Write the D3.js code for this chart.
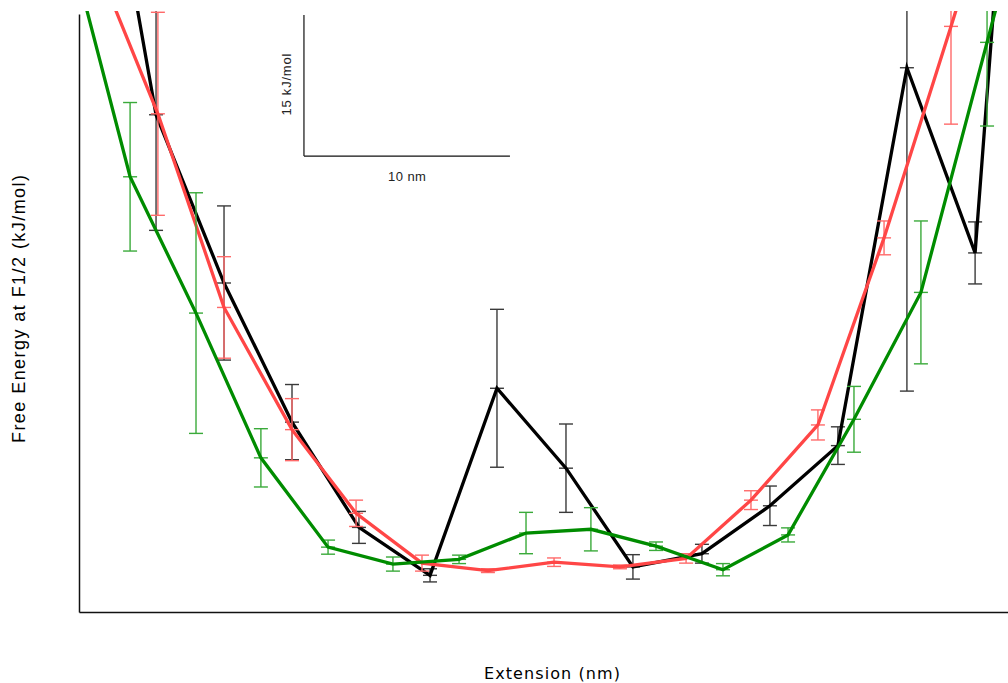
<!DOCTYPE html>
<html>
<head>
<meta charset="utf-8">
<script src="https://cdn.jsdelivr.net/npm/d3@7"></script>
<style>
  html, body { margin: 0; padding: 0; background: #fff; }
  svg { display: block; }
</style>
</head>
<body>
<svg id="chart" width="1008" height="683"></svg>
<script>
// ---- Data (extension in nm, free energy in kJ/mol, error in kJ/mol) ----
const blackX   = [0.44, 3.74, 7.04, 10.34, 13.59, 17.04, 20.29, 23.64, 26.89, 30.24, 33.54, 36.84, 40.19, 43.50, 46.80];
const blackY   = [93.8, 52.9, 35.0, 20.2, 9.0, 3.9, 23.8, 15.3, 4.8, 6.2, 11.3, 17.7, 57.9, 38.2, 133.7];
const blackErr = [0, 12.3, 8.2, 4.0, 1.7, 0.7, 8.4, 4.7, 1.3, 1.0, 2.1, 2.0, 34.4, 3.3, 0];

const redX   = [0.58, 3.83, 7.04, 10.34, 13.45, 16.65, 19.85, 23.06, 26.26, 29.47, 32.62, 35.87, 39.08, 42.33, 45.58];
const redY   = [70.5, 53.0, 32.4, 19.4, 10.5, 5.2, 4.4, 5.3, 4.8, 5.7, 11.9, 19.9, 39.8, 62.3, 85.1];
const redErr = [0, 10.8, 5.4, 3.3, 1.4, 0.85, 0.2, 0.45, 0.2, 0.5, 1.0, 1.6, 1.8, 10.4, 0];

const greenX   = [-0.73, 2.48, 5.68, 8.83, 12.09, 15.24, 18.45, 21.70, 24.85, 28.01, 31.26, 34.42, 37.62, 40.87, 44.08, 47.28];
const greenY   = [73.4, 46.3, 31.8, 16.4, 6.9, 5.1, 5.6, 8.4, 8.8, 7.0, 4.5, 8.2, 20.5, 34.0, 60.6, 87.1];
const greenErr = [0, 7.9, 12.8, 3.1, 0.75, 0.75, 0.45, 2.2, 2.3, 0.45, 0.65, 0.75, 3.5, 7.6, 8.9, 0];

// Scale bar (in data units)
const scaleBarOriginX = 10.92;   // nm
const scaleBarOriginY = 48.5;    // kJ/mol
const scaleBarLenX = 10;         // nm
const scaleBarLenY = 15;         // kJ/mol
const scaleBarLabelX = "10 nm";
const scaleBarLabelY = "15 kJ/mol";

const xTitle = "Extension (nm)";
const yTitle = "Free Energy at F1/2 (kJ/mol)";

// ---- Layout ----
const svg = d3.select("#chart");
const mLeft = 79, mRight = 1008, mTop = 14, mBottom = 612;

const x = d3.scaleLinear().domain([0, (mRight - mLeft) / 20.6]).range([mLeft, mRight]);
const y = d3.scaleLinear().domain([0, (mBottom - mTop) / 9.4]).range([mBottom, mTop]);

svg.append("defs").append("clipPath").attr("id", "plotclip")
  .append("rect").attr("x", mLeft).attr("y", 11).attr("width", mRight - mLeft).attr("height", mBottom - 11);

// Axes (lines only, no ticks)
svg.append("g").attr("transform", `translate(0,${mBottom})`)
  .call(d3.axisBottom(x).tickValues([]).tickSizeOuter(0))
  .call(g => g.select(".domain").attr("stroke", "#111").attr("stroke-width", 1.5));
svg.append("g").attr("transform", `translate(${mLeft},0)`)
  .call(d3.axisLeft(y).tickValues([]).tickSizeOuter(0))
  .call(g => g.select(".domain").attr("stroke", "#111").attr("stroke-width", 1.5));

const plot = svg.append("g").attr("clip-path", "url(#plotclip)");

const series = [
  { xs: blackX, ys: blackY, es: blackErr, line: "#000000", bar: "#3a3a3a" },
  { xs: redX,   ys: redY,   es: redErr,   line: "#ff4646", bar: "#ff6a6a" },
  { xs: greenX, ys: greenY, es: greenErr, line: "#008c00", bar: "#3aaa3a" }
];

const lineGen = d3.line().x(d => x(d[0])).y(d => y(d[1]));
const capW = 7;

series.forEach(s => {
  const pts = s.xs.map((v, i) => [v, s.ys[i], s.es[i]]);
  const g = plot.append("g");
  const eb = g.selectAll("g.eb").data(pts.filter(p => p[2] > 0)).join("g").attr("class", "eb")
    .attr("stroke", s.bar).attr("stroke-width", 1.4).attr("fill", "none");
  eb.append("line").attr("x1", d => x(d[0])).attr("x2", d => x(d[0]))
    .attr("y1", d => y(d[1] - d[2])).attr("y2", d => y(d[1] + d[2]));
  eb.append("line").attr("x1", d => x(d[0]) - capW).attr("x2", d => x(d[0]) + capW)
    .attr("y1", d => y(d[1] - d[2])).attr("y2", d => y(d[1] - d[2]));
  eb.append("line").attr("x1", d => x(d[0]) - capW).attr("x2", d => x(d[0]) + capW)
    .attr("y1", d => y(d[1] + d[2])).attr("y2", d => y(d[1] + d[2]));
  eb.append("line").attr("x1", d => x(d[0]) - capW).attr("x2", d => x(d[0]) + capW)
    .attr("y1", d => y(d[1])).attr("y2", d => y(d[1]));
  g.append("path").datum(pts).attr("d", lineGen)
    .attr("fill", "none").attr("stroke", s.line).attr("stroke-width", 3.3)
    .attr("stroke-linejoin", "miter");
});

// Scale bar
const sb = svg.append("g").attr("stroke", "#111").attr("stroke-width", 1.2);
const sx0 = x(scaleBarOriginX), sy0 = y(scaleBarOriginY);
const sx1 = x(scaleBarOriginX + scaleBarLenX), sy1 = y(scaleBarOriginY + scaleBarLenY);
sb.append("line").attr("x1", sx0).attr("x2", sx0).attr("y1", sy0).attr("y2", sy1);
sb.append("line").attr("x1", sx0).attr("x2", sx1).attr("y1", sy0).attr("y2", sy0);

svg.append("text").attr("x", (sx0 + sx1) / 2).attr("y", sy0 + 25)
  .attr("text-anchor", "middle").attr("font-family", "Liberation Sans, Arial, sans-serif")
  .attr("font-size", 13).attr("fill", "#222").attr("textLength", 38).text(scaleBarLabelX);
svg.append("text").attr("transform", `translate(${sx0 - 13},${(sy0 + sy1) / 2 - 1}) rotate(-90)`)
  .attr("text-anchor", "middle").attr("font-family", "Liberation Sans, Arial, sans-serif")
  .attr("font-size", 13).attr("fill", "#222").attr("textLength", 62).text(scaleBarLabelY);

// Titles
svg.append("text").attr("x", 552).attr("y", 679)
  .attr("text-anchor", "middle").attr("font-family", "DejaVu Sans, sans-serif")
  .attr("font-size", 16).attr("fill", "#000").attr("textLength", 136).text(xTitle);
svg.append("text").attr("transform", `translate(25,309) rotate(-90)`)
  .attr("text-anchor", "middle").attr("font-family", "Liberation Sans, Arial, sans-serif")
  .attr("font-size", 18).attr("fill", "#000").attr("textLength", 268).text(yTitle);
</script>
</body>
</html>
